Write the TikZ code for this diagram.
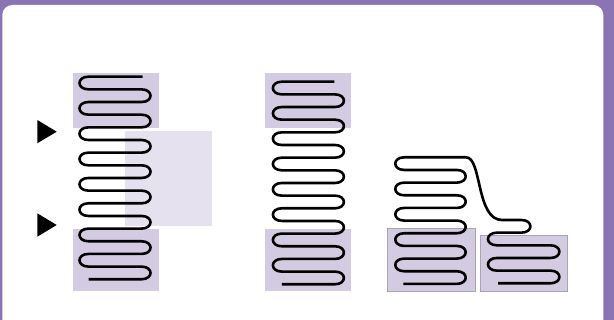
\documentclass[tikz,border=0pt]{standalone}
\definecolor{framepurple}{RGB}{139,116,179}
\definecolor{boxdark}{RGB}{211,203,225}
\definecolor{boxlight}{RGB}{229,225,239}
\definecolor{boxedge}{RGB}{169,163,179}
\tikzset{
  coil/.style={draw=black, line width=2.6pt, line join=round},
  zonedark/.style={fill=boxdark},
  zonelight/.style={fill=boxlight},
  zoneedged/.style={fill=boxdark, draw=boxedge, line width=1pt},
  marker/.style={fill=black}
}
\begin{document}
\begin{tikzpicture}[x=1pt,y=-1pt]
\useasboundingbox (0,0) rectangle (614,320);
\clip (0,0) rectangle (614,320);
\fill[framepurple] (0,0) rectangle (614,320);
\fill[white, rounded corners=10pt] (2.3,5) rectangle (603.3,340);

% ---------- left column ----------
\fill[zonedark] (72.7,72.7) rectangle (158.7,128.3);
\fill[zonelight] (125,130.7) rectangle (212,225.7);
\fill[zonedark] (72.7,229.3) rectangle (158.7,291);
\fill[marker] (37.3,120) -- (56.7,131.7) -- (37.3,143.3) -- cycle;
\fill[marker] (37.3,213.3) -- (56.7,225) -- (37.3,236.7) -- cycle;

\draw[coil] (142.7,76.7)
  \foreach \k in {0,...,7} {
    -- (88.5,{76.7+2*\k*12.66})
    .. controls (76.5,{76.7+2*\k*12.66}) and (76.5,{76.7+(2*\k+1)*12.66}) .. (88.5,{76.7+(2*\k+1)*12.66})
    -- (141.5,{76.7+(2*\k+1)*12.66})
    .. controls (153.5,{76.7+(2*\k+1)*12.66}) and (153.5,{76.7+(2*\k+2)*12.66}) .. (141.5,{76.7+(2*\k+2)*12.66})
  }
  -- (88.5,{76.7+16*12.66});

% ---------- middle column ----------
\fill[zonedark] (265,72.7) rectangle (350.7,128.3);
\fill[zonedark] (265,229.3) rectangle (350.7,291);
\begin{scope}[shift={(193.4,5)}]
\draw[coil] (141,76.7)
  \foreach \k in {0,...,7} {
    -- (88.5,{76.7+2*\k*12.66})
    .. controls (76.5,{76.7+2*\k*12.66}) and (76.5,{76.7+(2*\k+1)*12.66}) .. (88.5,{76.7+(2*\k+1)*12.66})
    -- (141.5,{76.7+(2*\k+1)*12.66})
    .. controls (153.5,{76.7+(2*\k+1)*12.66}) and (153.5,{76.7+(2*\k+2)*12.66}) .. (141.5,{76.7+(2*\k+2)*12.66})
  }
  -- (88.5,{76.7+16*12.66});
\end{scope}

% ---------- right part ----------
\draw[zoneedged] (387.3,228.3) rectangle (475,291.7);
\draw[zoneedged] (480,236) rectangle (567.3,291.7);

\draw[coil] (403.3,283.9)
  \foreach \k in {0,...,4} {
    -- (456.7,{283.9-2*\k*12.66})
    .. controls (468.7,{283.9-2*\k*12.66}) and (468.7,{283.9-(2*\k+1)*12.66}) .. (456.7,{283.9-(2*\k+1)*12.66})
    -- (404.3,{283.9-(2*\k+1)*12.66})
    .. controls (392.3,{283.9-(2*\k+1)*12.66}) and (392.3,{283.9-(2*\k+2)*12.66}) .. (404.3,{283.9-(2*\k+2)*12.66})
  }
  -- (466,157.3)
  .. controls (482,157.3) and (476,220) .. (502,220)
  -- (521.4,220)
  .. controls (533.4,220) and (533.4,232.66) .. (521.4,232.66)
  -- (497,232.66)
  .. controls (485,232.66) and (485,245.32) .. (497,245.32)
  -- (550.4,245.32)
  .. controls (562.4,245.32) and (562.4,257.98) .. (550.4,257.98)
  -- (497,257.98)
  .. controls (485,257.98) and (485,270.64) .. (497,270.64)
  -- (550.4,270.64)
  .. controls (562.4,270.64) and (562.4,283.3) .. (550.4,283.3)
  -- (498,283.3);
\end{tikzpicture}
\end{document}
